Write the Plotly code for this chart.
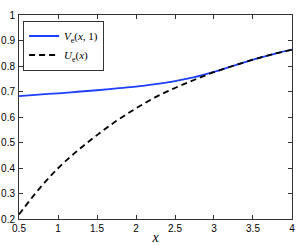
import plotly.graph_objects as go

x_vals = [0.5, 0.75, 1.0, 1.25, 1.5, 1.75, 2.0, 2.25, 2.5, 2.75, 3.0, 3.25, 3.5, 3.75, 4.0]
v_vals = [0.682, 0.688, 0.693, 0.699, 0.705, 0.712, 0.719, 0.729, 0.741, 0.756, 0.777, 0.801, 0.825, 0.846, 0.864]
u_vals = [0.218, 0.315, 0.399, 0.468, 0.529, 0.585, 0.634, 0.678, 0.714, 0.746, 0.776, 0.801, 0.825, 0.846, 0.864]

x_ticks = [0.5, 1, 1.5, 2, 2.5, 3, 3.5, 4]
y_ticks = [0.2, 0.3, 0.4, 0.5, 0.6, 0.7, 0.8, 0.9, 1]

fig = go.Figure()
fig.add_trace(go.Scatter(x=x_vals, y=v_vals, mode="lines", line=dict(color="#1f3fff", width=1.8, shape="spline"),
                         name="<i>V</i><sub>e</sub>(<i>x</i>, 1)"))
fig.add_trace(go.Scatter(x=x_vals, y=u_vals, mode="lines", line=dict(color="black", width=1.8, dash="6px,4px", shape="spline"),
                         name="<i>U</i><sub>e</sub>(<i>x</i>)"))

axis_common = dict(showgrid=False, zeroline=False, showline=True, linecolor="#333333", linewidth=1,
                   mirror="ticks", ticks="inside", ticklen=4, tickcolor="#333333", automargin=False,
                   tickfont=dict(family="Liberation Sans, Arial, sans-serif", size=10, color="black"))
fig.update_xaxes(range=[0.5, 4.0001], tickvals=x_ticks, ticktext=[str(t) for t in x_ticks],
                 title=dict(text="<i>x</i>", font=dict(family="Liberation Serif, serif", size=14, color="black"), standoff=2),
                 **axis_common)
fig.update_yaxes(range=[0.2, 1.0001], tickvals=y_ticks, ticktext=[str(t) for t in y_ticks], ticklabelstandoff=1,
                 **axis_common)

fig.update_layout(width=299, height=245, margin=dict(l=19, r=7, t=15, b=26),
                  plot_bgcolor="white", paper_bgcolor="white",
                  legend=dict(x=0.015, y=0.973, xanchor="left", yanchor="top", bgcolor="white",
                              bordercolor="#333333", borderwidth=1, itemwidth=30,
                              font=dict(family="Liberation Serif, serif", size=11, color="black"),
                              tracegroupgap=0))
fig.write_html("out.html", config={"displayModeBar": False},
               post_script="document.body.style.margin='0';document.body.style.overflow='hidden';")
